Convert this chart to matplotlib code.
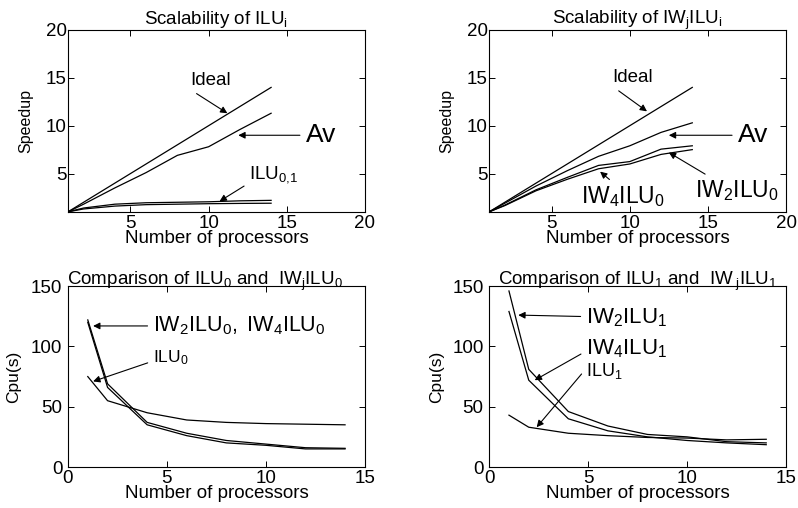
import numpy as np
import matplotlib
matplotlib.use("Agg")
import matplotlib.pyplot as plt

plt.rcParams['font.family'] = ['Liberation Sans', 'DejaVu Sans']
plt.rcParams['mathtext.fontset'] = 'custom'
plt.rcParams['mathtext.rm'] = 'Liberation Sans'
plt.rcParams['mathtext.it'] = 'Liberation Sans'

# processor counts
procs = [1, 2, 4, 6, 8, 10, 12, 14]

# speedup, ILU_i
ideal = [1, 2, 4, 6, 8, 10, 12, 14]
av_ilu = [1, 1.8, 3.5, 5.1, 6.9, 7.8, 9.6, 11.3]
sp_ilu0 = [1, 1.3, 1.6, 1.75, 1.8, 1.85, 1.88, 1.9]
sp_ilu1 = [1, 1.4, 1.8, 1.95, 2.0, 2.05, 2.15, 2.2]

# speedup, IW_jILU_i
av_iw = [1, 1.9, 3.7, 5.3, 6.8, 7.9, 9.3, 10.3]
sp_iw2 = [1, 1.7, 3.3, 4.6, 5.85, 6.25, 7.55, 7.9]
sp_iw4 = [1, 1.65, 3.2, 4.4, 5.5, 6.0, 7.0, 7.5]

# cpu time, ILU0 vs IWjILU0
cpu_ilu0 = [75, 55, 45, 39, 37, 36, 35.5, 35]
cpu_iw2_0 = [122, 69, 37, 28, 22, 19, 16, 15.5]
cpu_iw4_0 = [120, 66, 35, 26, 20, 18, 15, 15]

# cpu time, ILU1 vs IWjILU1
cpu_ilu1 = [43, 33, 28, 26, 24.5, 24, 22.5, 23]
cpu_iw2_1 = [146, 81, 46, 34, 27, 25, 21, 20]
cpu_iw4_1 = [129, 72, 40, 30, 25, 22, 20, 18.5]

fig = plt.figure(figsize=(7.98, 5.08), dpi=100)
ax1 = fig.add_axes([0.0852, 0.583, 0.372, 0.358])
ax2 = fig.add_axes([0.613, 0.583, 0.372, 0.358])
ax3 = fig.add_axes([0.0852, 0.0807, 0.372, 0.356])
ax4 = fig.add_axes([0.613, 0.0807, 0.372, 0.356])

lw = 0.9
fs_tick = 13.5
fs_xlab = 13.5
fs_ylab = 11.5


def arrow(rel=(0.5, 0.5)):
    return dict(arrowstyle='-|>', color='black', lw=0.8, mutation_scale=10,
                shrinkA=2, shrinkB=0, relpos=rel)


def style(ax, ypad=1):
    ax.tick_params(direction='in', top=True, right=True, labelsize=fs_tick,
                   length=4, width=0.7, pad=1)
    ax.tick_params(axis='x', pad=2)
    ax.tick_params(axis='y', pad=ypad)
    for s in ax.spines.values():
        s.set_linewidth(0.8)


# top left
for y in (ideal, av_ilu, sp_ilu0, sp_ilu1):
    ax1.plot(procs, y, color='black', lw=lw)
ax1.set_xlim(1, 20)
ax1.set_ylim(1, 20)
ax1.set_xticks([5, 10, 15, 20])
ax1.set_yticks([5, 10, 15, 20])
ax1.set_xlabel('Number of processors', fontsize=fs_xlab, labelpad=-1)
ax1.set_ylabel('Speedup', fontsize=fs_ylab, labelpad=9)
ax1.set_title(r'Scalability of $\mathrm{ILU_i}$', fontsize=13.5, pad=4)
ax1.annotate('Ideal', xy=(11.2, 11.3), xytext=(8.8, 13.8), fontsize=13.5,
             arrowprops=arrow((0, 0)), va='bottom')
ax1.annotate('Av', xy=(11.9, 9.0), xytext=(16.2, 9.0), fontsize=19,
             arrowprops=arrow(), va='center')
ax1.annotate(r'$\mathrm{ILU_{0{,}1}}$', xy=(10.7, 2.1), xytext=(12.6, 4.9),
             fontsize=13.5, arrowprops=arrow((0, 0.1)), va='center')
style(ax1)

# top right
for y in (ideal, av_iw, sp_iw2, sp_iw4):
    ax2.plot(procs, y, color='black', lw=lw)
ax2.set_xlim(1, 20)
ax2.set_ylim(1, 20)
ax2.set_xticks([5, 10, 15, 20])
ax2.set_yticks([5, 10, 15, 20])
ax2.set_xlabel('Number of processors', fontsize=fs_xlab, labelpad=-1)
ax2.set_ylabel('Speedup', fontsize=fs_ylab, labelpad=9)
ax2.set_title(r'Scalability of $\mathrm{IW_jILU_i}$', fontsize=13.5, pad=4)
ax2.annotate('Ideal', xy=(11.1, 11.5), xytext=(8.9, 14.1), fontsize=13.5,
             arrowprops=arrow((0, 0)), va='bottom')
ax2.annotate('Av', xy=(12.5, 9.0), xytext=(16.9, 9.0), fontsize=19,
             arrowprops=arrow(), va='center')
ax2.annotate(r'$\mathrm{IW_2ILU_0}$', xy=(12.5, 7.2), xytext=(14.2, 3.2),
             fontsize=16.5, arrowprops=arrow((0.2, 1)), va='center')
ax2.annotate(r'$\mathrm{IW_4ILU_0}$', xy=(8.1, 5.2), xytext=(6.9, 2.6),
             fontsize=16.5, arrowprops=arrow((0.4, 1)), va='center')
style(ax2)

# bottom left
for y in (cpu_ilu0, cpu_iw2_0, cpu_iw4_0):
    ax3.plot(procs, y, color='black', lw=lw)
ax3.set_xlim(0, 15)
ax3.set_ylim(0, 150)
ax3.set_xticks([0, 5, 10, 15])
ax3.set_yticks([0, 50, 100, 150])
ax3.set_xlabel('Number of processors', fontsize=fs_xlab, labelpad=-1)
ax3.set_ylabel('Cpu(s)', fontsize=fs_ylab + 1, labelpad=7)
ax3.set_title(r'Comparison of $\mathrm{ILU_0}$ and  $\mathrm{IW_jILU_0}$',
              fontsize=13.5, pad=1, x=0.46)
ax3.annotate(r'$\mathrm{IW_2ILU_0,\ IW_4ILU_0}$', xy=(1.27, 117),
             xytext=(4.3, 117), fontsize=15.5, arrowprops=arrow(), va='center')
ax3.annotate(r'$\mathrm{ILU_0}$', xy=(1.27, 71), xytext=(4.3, 91),
             fontsize=12.5, arrowprops=arrow((0, 0.3)), va='center')
style(ax3, ypad=4)

# bottom right
for y in (cpu_ilu1, cpu_iw2_1, cpu_iw4_1):
    ax4.plot(procs, y, color='black', lw=lw)
ax4.set_xlim(0, 15)
ax4.set_ylim(0, 150)
ax4.set_xticks([0, 5, 10, 15])
ax4.set_yticks([0, 50, 100, 150])
ax4.set_xlabel('Number of processors', fontsize=fs_xlab, labelpad=-1)
ax4.set_ylabel('Cpu(s)', fontsize=fs_ylab + 1, labelpad=6)
ax4.set_title(r'Comparison of $\mathrm{ILU_1}$ and  $\mathrm{IW_{\ j}ILU_1}$',
              fontsize=13.5, pad=1)
ax4.annotate(r'$\mathrm{IW_2ILU_1}$', xy=(1.47, 126), xytext=(4.9, 124),
             fontsize=16, arrowprops=arrow(), va='center')
ax4.annotate(r'$\mathrm{IW_4ILU_1}$', xy=(2.3, 72), xytext=(4.9, 98),
             fontsize=16, arrowprops=arrow((0, 0.4)), va='center')
ax4.annotate(r'$\mathrm{ILU_1}$', xy=(2.4, 33), xytext=(4.9, 80),
             fontsize=13, arrowprops=arrow((0, 0.6)), va='center')
style(ax4, ypad=4)

fig.savefig('out.png', dpi=100)
